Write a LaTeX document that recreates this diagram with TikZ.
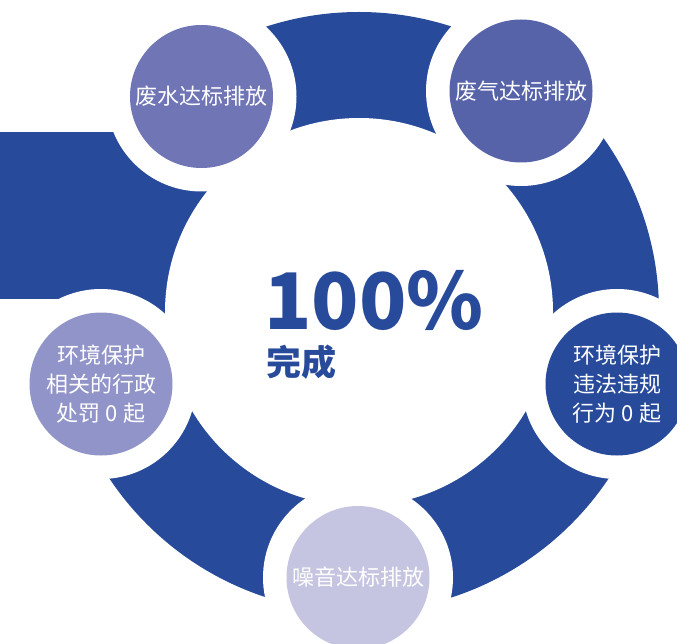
\documentclass[tikz,border=0pt]{standalone}
\usepackage{fontspec}
\setmainfont{Noto Sans CJK SC}
\definecolor{ringblue}{RGB}{39,74,155}
\definecolor{waterc}{RGB}{111,117,181}
\definecolor{gasc}{RGB}{87,99,169}
\definecolor{noisec}{RGB}{197,197,226}
\definecolor{finec}{RGB}{145,148,200}
\tikzset{
  goal/.style={circle,minimum size=143pt,inner sep=0pt,text=white,align=center,
    font=\fontsize{22}{29}\selectfont},
  gap/.style={fill=white},
}
\begin{document}
\begin{tikzpicture}[x=1pt,y=-1pt]
  \clip (0,0) rectangle (677,644);
  \coordinate (ctr) at (359,312);
  \fill[ringblue] (0,132) rectangle (200,299);
  \fill[ringblue] (ctr) circle (300pt);
  \fill[white] (ctr) circle (194pt);
  % white gaps round the five goals
  \foreach \p in {(201.5,96.5),(521,91),(617,384),(358,577.5),(101,384)}
    \fill[gap] \p circle (95pt);
  \node[goal,fill=waterc] (water) at (201.5,96.5) {\raisebox{3pt}{废水达标排放}};
  \node[goal,fill=gasc] (gas) at (521,91) {废气达标排放};
  \node[goal,fill=ringblue] (law) at (617,384) {环境保护\\违法违规\\行为 0 起};
  \node[goal,fill=noisec] (noise) at (358,577.5) {噪音达标排放};
  \node[goal,fill=finec] (fine) at (101,384) {环境保护\\相关的行政\\处罚 0 起};
  \node[anchor=base west,inner sep=0pt,text=ringblue,
    font=\bfseries\fontsize{78}{78}\selectfont] (pct) at (264,329) {100\%};
  \node[anchor=west,inner sep=0pt,text=ringblue,
    font=\bfseries\fontsize{35}{35}\selectfont] (done) at (266,362) {完成};
\end{tikzpicture}
\end{document}
